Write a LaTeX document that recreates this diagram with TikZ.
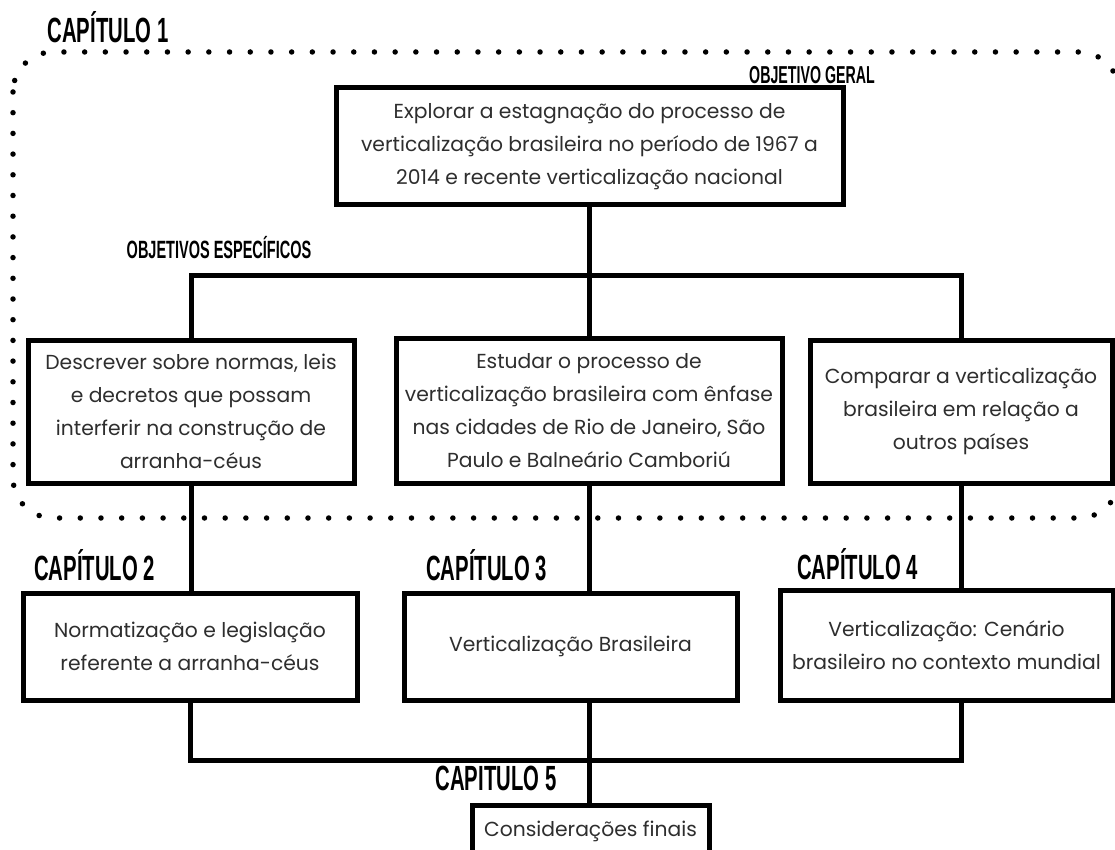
\documentclass[tikz,border=0pt]{standalone}
\usepackage{fontspec}
\setmainfont{Poppins}
\newfontfamily\capfont[FakeStretch=0.58]{Liberation Sans Bold}
\definecolor{txt}{HTML}{2E2E2E}
\begin{document}
\begin{tikzpicture}[x=1pt,y=-1pt,
  box/.style={draw=black, line width=5pt, fill=white, align=center, inner sep=0pt,
    text=txt, font=\fontsize{20.3}{33}\selectfont},
  chap/.style={inner sep=0pt, font=\capfont\fontsize{35}{35}\selectfont},
  smallchap/.style={inner sep=0pt, font=\capfont\fontsize{25}{25}\selectfont},
  link/.style={line width=5pt, line join=miter},
  dotline/.style={line width=5.5pt, line cap=round, dash pattern=on 0pt off 20.7pt}]
\useasboundingbox (0,0) rectangle (1115,850);
% dotted frame
\draw[dotline, rounded corners=40pt] (13,52) rectangle (1119,518);
% headings
\node[chap] (h1) at (108,27.5) {CAPÍTULO 1};
\node[smallchap, font=\capfont\fontsize{24.5}{25}\selectfont] (hg) at (812,75.5) {OBJETIVO GERAL};
\node[smallchap] (he) at (219,248) {OBJETIVOS ESPECÍFICOS};
\node[chap] (h2) at (94.5,565) {CAPÍTULO 2};
\node[chap] (h3) at (486.5,565) {CAPÍTULO 3};
\node[chap] (h4) at (857.5,564.5) {CAPÍTULO 4};
\node[chap] (h5) at (496,778.5) {CAPITULO 5};
% boxes
\node[box, minimum width=507, minimum height=117] (top) at (589.5,146.5)
  {Explorar a estagnação do processo de\\verticalização brasileira no período de 1967 a\\2014 e recente verticalização nacional};
\node[box, minimum width=326, minimum height=143] (o1) at (191,411.5)
  {Descrever sobre normas, leis\\e decretos que possam\\interferir na construção de\\arranha-céus};
\node[box, minimum width=386, minimum height=145] (o2) at (589,410.5)
  {Estudar o processo de\\verticalização brasileira com ênfase\\nas cidades de Rio de Janeiro, São\\Paulo e Balneário Camboriú};
\node[box, minimum width=302, minimum height=143] (o3) at (961,411.5)
  {Comparar a verticalização\\brasileira em relação a\\outros países};
\node[box, minimum width=334, minimum height=107] (c2) at (190,646.5)
  {Normatização e legislação\\referente a arranha-céus};
\node[box, minimum width=333, minimum height=107] (c3) at (570.5,646.5)
  {Verticalização Brasileira};
\node[box, minimum width=333, minimum height=110] (c4) at (946.5,645)
  {Verticalização: Cenário\\brasileiro no contexto mundial};
\node[box, minimum width=237, anchor=north, text height=14pt, text depth=45pt, inner ysep=17pt] (c5) at (590.5,803)
  {Considerações finais};
% connectors
\coordinate (ht) at (589.5,275);
\coordinate (hb) at (589,760);
\draw[link] (top.south) -- (ht);
\draw[link] (o1.north) -- (o1.north |- ht) -- (ht -| o3.north) -- (o3.north);
\draw[link] (o2.north) -- (o2.north |- ht);
\draw[link] (o1.south) -- (o1.south |- c2.north);
\draw[link] (o2.south) -- (o2.south |- c3.north);
\draw[link] (o3.south) -- (o3.south |- c4.north);
\draw[link] (c2.south) -- (c2.south |- hb) -- (hb -| o3.south) -- (c4.south -| o3.south);
\draw[link] (c3.south -| hb) -- (c5.north -| hb);
\end{tikzpicture}
\end{document}
